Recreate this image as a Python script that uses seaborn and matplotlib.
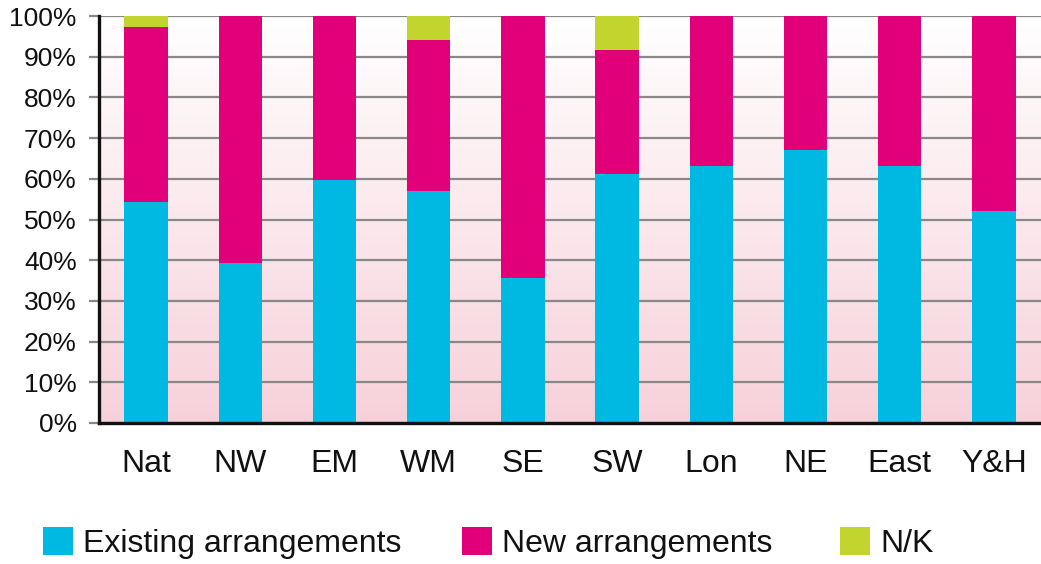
import numpy as np
import pandas as pd
import matplotlib
matplotlib.use("Agg")
import matplotlib.pyplot as plt
import seaborn as sns
from matplotlib.patches import Patch
from matplotlib.colors import LinearSegmentedColormap

regions = ["Nat", "NW", "EM", "WM", "SE", "SW", "Lon", "NE", "East", "Y&H"]
existing = [54.3, 39.3, 59.8, 57.0, 35.6, 61.3, 63.2, 67.1, 63.2, 52.2]
new_arr = [43.0, 60.7, 40.2, 37.0, 64.4, 30.4, 36.8, 32.9, 36.8, 47.8]
not_known = [2.7, 0.0, 0.0, 6.0, 0.0, 8.3, 0.0, 0.0, 0.0, 0.0]
series_names = ["Existing arrangements", "New arrangements", "N/K"]
yticks = [0, 10, 20, 30, 40, 50, 60, 70, 80, 90, 100]

colors = {"Existing arrangements": "#00B9E3", "New arrangements": "#E2007A", "N/K": "#C2D52F"}

sns.set_theme(style="white")
plt.rcParams["font.family"] = ["Liberation Sans", "DejaVu Sans"]

df = pd.DataFrame({"region": regions, "existing": existing, "new": new_arr, "nk": not_known})
df["lvl1"] = df["existing"]
df["lvl2"] = df["existing"] + df["new"]
df["lvl3"] = df["existing"] + df["new"] + df["nk"]

fig = plt.figure(figsize=(10.41, 5.64), dpi=100)
ax = fig.add_axes([99 / 1041, 1 - 423 / 564, 1 - 99 / 1041, (423 - 16) / 564])

# gradient background
cmap = LinearSegmentedColormap.from_list("bg", ["#FFFFFF", "#F7D1DA"])
grad = np.linspace(0, 1, 256).reshape(-1, 1)
ax.imshow(grad, extent=[0, 1, 0, 1], transform=ax.transAxes, cmap=cmap,
          aspect="auto", zorder=0, origin="upper")

for col, name in [("lvl3", "N/K"), ("lvl2", "New arrangements"), ("lvl1", "Existing arrangements")]:
    sns.barplot(data=df, x="region", y=col, color=colors[name], width=0.46,
                saturation=1, linewidth=0, ax=ax, zorder=3, order=regions)

ax.set_xlim(-0.5, len(regions) - 0.5)
ax.set_ylim(0, 100)
ax.set_yticks(yticks)
ax.set_yticklabels([f"{v}%" for v in yticks])
ax.yaxis.grid(True, color="#888888", linewidth=1.6, zorder=1)
ax.set_axisbelow(True)

ax.set_xticks(np.arange(len(regions)))
ax.set_xticklabels(regions)
ax.tick_params(axis="x", which="major", length=0, pad=19, labelsize=23, labelcolor="#111111")
ax.set_xticks(np.arange(len(regions) + 1) - 0.5, minor=True)
ax.tick_params(axis="x", which="minor", length=8, width=2.2, color="#777777", direction="out")
ax.tick_params(axis="y", length=7, width=1.6, color="#888888", direction="out", pad=9,
               labelsize=19, labelcolor="#111111", left=True)
ax.set_xlabel("")
ax.set_ylabel("")

for s in ["top", "right"]:
    ax.spines[s].set_visible(False)
for s in ["left", "bottom"]:
    ax.spines[s].set_color("#111111")
    ax.spines[s].set_linewidth(2.4)
    ax.spines[s].set_zorder(5)

# one legend entry per block, placed along the bottom
legend_x = [43 / 1041, 462 / 1041, 840 / 1041]
for name, lx in zip(series_names, legend_x):
    leg = fig.legend(handles=[Patch(facecolor=colors[name], edgecolor="none", label=name)],
                     loc="center left", bbox_to_anchor=(lx, 1 - 543 / 564),
                     frameon=False, handlelength=0.95, handleheight=0.95,
                     handletextpad=0.3, borderpad=0, borderaxespad=0,
                     prop={"size": 23})
    for t in leg.get_texts():
        t.set_color("#111111")

fig.savefig("out.png", dpi=100)
